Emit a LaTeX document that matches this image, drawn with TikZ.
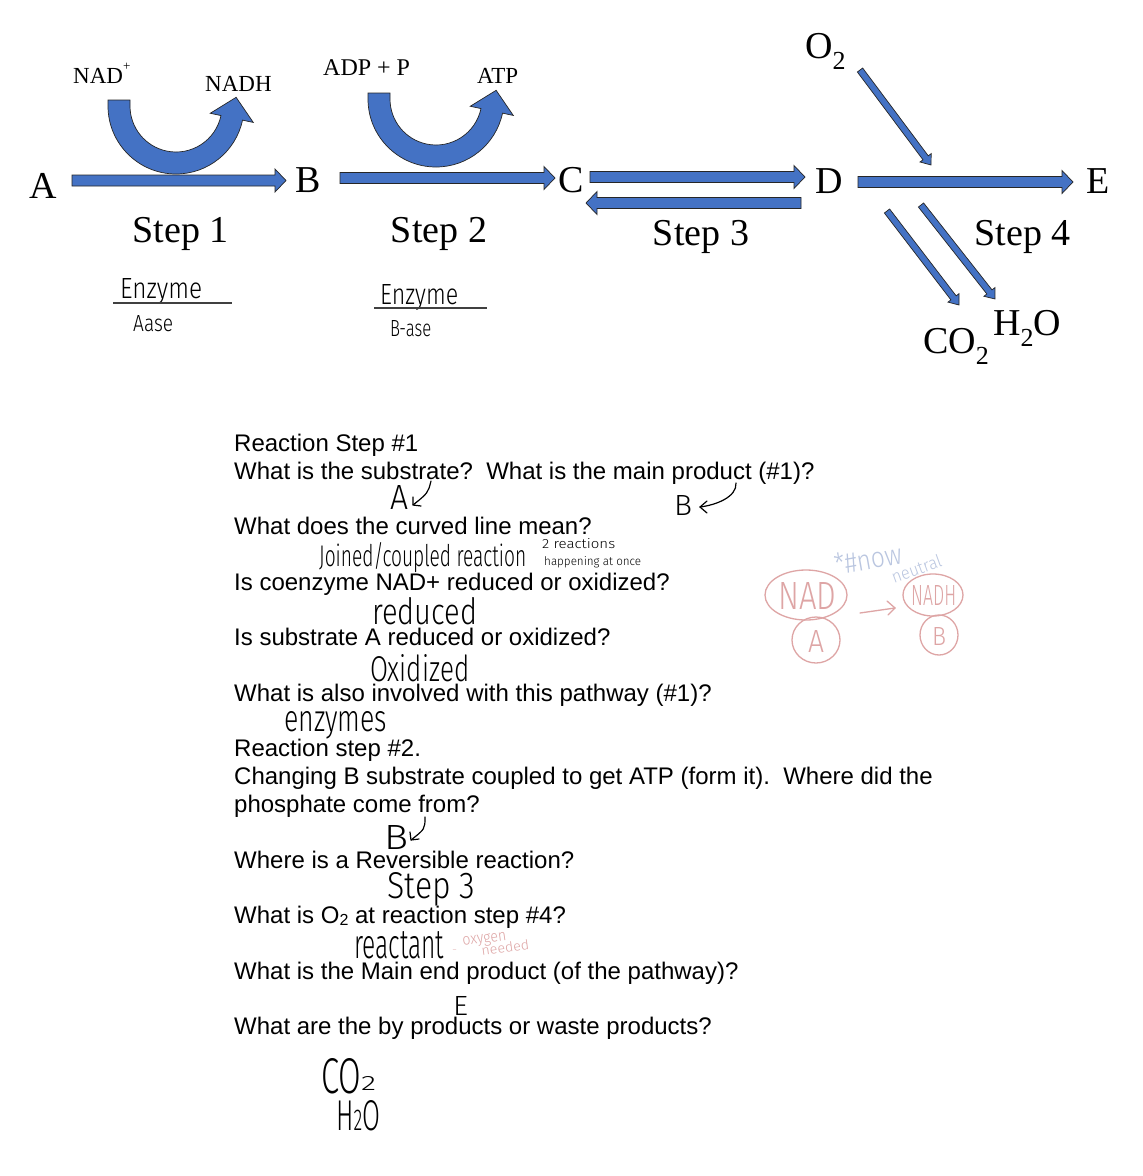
\documentclass[tikz,border=0pt]{standalone}
\usepackage{fontspec}
\setmainfont{Liberation Serif}
\newfontfamily\qfont{Liberation Sans}
\newfontfamily\hand{Fira Sans Light}
\usetikzlibrary{calc}
\definecolor{arrblue}{RGB}{68,114,196}
\definecolor{pinkink}{RGB}{222,165,165}
\definecolor{blueink}{RGB}{186,198,224}
\tikzset{
 blockarrow/.style={fill=arrblue, draw=black!85, line width=0.7pt, line join=miter},
 lbl/.style={inner sep=0pt, anchor=base, font=\fontsize{38}{38}\selectfont},
 smlbl/.style={inner sep=0pt, anchor=base west, font=\fontsize{23}{23}\selectfont},
 qline/.style={inner sep=0pt, anchor=base west, font=\qfont\fontsize{24}{24}\selectfont},
 hw/.style={inner sep=0pt, anchor=base west, font=\hand},
 pinkhw/.style={inner sep=0pt, anchor=base west, font=\hand, text=pinkink},
 bluehw/.style={inner sep=0pt, anchor=base west, font=\hand, text=blueink},
 pinkstroke/.style={draw=pinkink, line width=1.3pt, line cap=round},
 inkstroke/.style={draw=black, line width=1.2pt, line cap=round, line join=round},
}
\newcommand\blockarr[5]{%
 \coordinate (bah) at ($(#2)!#5!(#1)$);
 \path[blockarrow] ($(#1)!#3!90:(#2)$) -- ($(bah)!#3!90:(#2)$) -- ($(bah)!#4!90:(#2)$) -- (#2) -- ($(bah)!#4!-90:(#2)$) -- ($(bah)!#3!-90:(#2)$) -- ($(#1)!#3!-90:(#2)$) -- cycle;}
\newcommand\curvedarr[1]{%
 \path[blockarrow] ($(#1)+(-46,-6)$) -- ($(#1)+(-68,-6)$) -- ($(#1)+(-68,0)$) arc[start angle=180,end angle=12,radius=68] -- ($(#1)+(12:79)$) -- ($(#1)+(12:57)+(-78:21)$) -- ($(#1)+(12:35)$) -- ($(#1)+(12:46)$) arc[start angle=12,end angle=180,radius=46] -- cycle;}
\newcommand\hwbox[3]{\resizebox{#1pt}{#2pt}{#3}}
\begin{document}
\begin{tikzpicture}[x=1pt,y=-1pt]
\useasboundingbox[fill=white] (0,0) rectangle (1143,1176);
% ---------- letters
\node[lbl] (A) at (43,198) {A};
\node[lbl] (B) at (308,192) {B};
\node[lbl] (C) at (571,192) {C};
\node[lbl] (D) at (829,193) {D};
\node[lbl] (E) at (1098,193) {E};
\node[lbl] (s1) at (180.5,242) {Step 1};
\node[lbl] (s2) at (439,242) {Step 2};
\node[lbl] (s3) at (701,245) {Step 3};
\node[lbl] (s4) at (1022.5,245) {Step 4};
\node[smlbl] (nad) at (73,83) {NAD\raisebox{0.55em}{\fontsize{13}{13}\selectfont +}};
\node[smlbl] (nadh) at (205,91) {NADH};
\node[smlbl,font=\fontsize{24}{24}\selectfont] (adp) at (323,75) {ADP + P};
\node[smlbl] (atp) at (477,83) {ATP};
\node[lbl,anchor=base west] (o2) at (805,58) {O\raisebox{-0.3em}{\fontsize{26}{26}\selectfont 2}};
\node[lbl,anchor=base west] (co2) at (923,353) {CO\raisebox{-0.3em}{\fontsize{26}{26}\selectfont 2}};
\node[lbl,anchor=base west] (h2o) at (993,335) {H\raisebox{-0.3em}{\fontsize{26}{26}\selectfont 2}O};
% ---------- block arrows
\coordinate (ab1) at (72,180.5); \coordinate (ab2) at (286,180.5);
\coordinate (bc1) at (340,178); \coordinate (bc2) at (555,178);
\coordinate (cd1) at (590,177); \coordinate (cd2) at (805,177);
\coordinate (dc1) at (801,203); \coordinate (dc2) at (586,203);
\coordinate (de1) at (858,182); \coordinate (de2) at (1073,182);
\coordinate (ox1) at (860,70); \coordinate (ox2) at (931,165);
\coordinate (cw1) at (887,211); \coordinate (cw2) at (959,305);
\coordinate (hw1) at (921,205); \coordinate (hw2) at (995,299);
\blockarr{ab1}{ab2}{5.5pt}{11.5pt}{11pt}
\blockarr{bc1}{bc2}{5.5pt}{11.5pt}{11pt}
\blockarr{cd1}{cd2}{5.5pt}{11.5pt}{11pt}
\blockarr{dc1}{dc2}{5.5pt}{11.5pt}{11pt}
\blockarr{de1}{de2}{5.5pt}{11.5pt}{11pt}
\blockarr{ox1}{ox2}{3.3pt}{7pt}{9pt}
\blockarr{cw1}{cw2}{3.3pt}{7pt}{9pt}
\blockarr{hw1}{hw2}{3.3pt}{7pt}{9pt}
\coordinate (u1) at (176,106);
\coordinate (u2) at (436,99);
\curvedarr{u1}
\curvedarr{u2}
% ---------- enzyme notes
\node[hw] (enz1) at (120,298) {\hwbox{82}{20}{Enzyme}};
\coordinate (ln1a) at (113,303); \coordinate (ln1b) at (232,303);
\draw[line width=1.3pt, black!75] (ln1a) -- (ln1b);
\node[hw] (aase) at (133,331) {\hwbox{40}{16}{Aase}};
\node[hw] (enz2) at (380,304) {\hwbox{78}{20}{Enzyme}};
\coordinate (ln2a) at (374,308); \coordinate (ln2b) at (487,308);
\draw[line width=1.3pt, black!75] (ln2a) -- (ln2b);
\node[hw] (base) at (390,336) {\hwbox{41}{16}{B{\kern-0.05em}-ase}};
% ---------- questions
\node[qline] (q1) at (234,451) {Reaction Step \#1};
\node[qline] (q2) at (234,479) {What is the substrate?\ \ What is the main product (\#1)?};
\node[qline] (q3) at (234,534.4) {What does the curved line mean?};
\node[qline] (q4) at (234,590) {Is coenzyme NAD+ reduced or oxidized?};
\node[qline] (q5) at (234,645.6) {Is substrate A reduced or oxidized?};
\node[qline] (q6) at (234,701.2) {What is also involved with this pathway (\#1)?};
\node[qline] (q7) at (234,756.8) {Reaction step \#2.};
\node[qline] (q8) at (234,784.6) {Changing B substrate coupled to get ATP (form it).\ \ Where did the};
\node[qline] (q9) at (234,812.4) {phosphate come from?};
\node[qline] (q10) at (234,868) {Where is a Reversible reaction?};
\node[qline] (q11) at (234,923.6) {What is O\raisebox{-2pt}{\fontsize{16}{16}\selectfont 2} at reaction step \#4?};
\node[qline] (q12) at (234,979.2) {What is the Main end product (of the pathway)?};
\node[qline] (q13) at (234,1034.8) {What are the by products or waste products?};
% ---------- handwritten answers
\node[hw] (ansA) at (390,509) {\hwbox{18}{24}{A}};
\coordinate (aa1) at (431,481); \coordinate (aa2) at (413,505);
\draw[inkstroke] (aa1) .. controls (428,493) .. (aa2);
\draw[inkstroke] ($(aa2)+(0,-8)$) -- (aa2) -- ($(aa2)+(8,1)$);
\node[hw] (ansB) at (674,515) {\hwbox{18}{20}{B}};
\coordinate (ba1) at (736,483); \coordinate (ba2) at (700,507);
\draw[inkstroke] (ba1) .. controls (737,497) and (716,505) .. (ba2);
\draw[inkstroke] ($(ba2)+(7,-6)$) -- (ba2) -- ($(ba2)+(7,6)$);
\node[hw] (joined) at (319,566) {\hwbox{207}{24}{Joined/coupled reaction}};
\node[hw] (tworx) at (542,548) {\hwbox{73}{10}{2 reactions}};
\node[hw] (happ) at (544,565) {\hwbox{97}{9}{happening at once}};
\node[hw] (reduced) at (372,624) {\hwbox{105}{27}{reduced}};
\node[hw] (oxid) at (370,681) {\hwbox{99}{27}{Oxidized}};
\node[hw] (enzymes) at (284,731) {\hwbox{103}{20}{enzymes}};
\node[hw] (ansB2) at (384,849) {\hwbox{24}{24}{B}};
\coordinate (bb1) at (425,817); \coordinate (bb2) at (411,840);
\draw[inkstroke] (bb1) .. controls (425,829) .. (bb2);
\draw[inkstroke] ($(bb2)+(-1,-8)$) -- (bb2) -- ($(bb2)+(8,-1)$);
\node[hw] (step3) at (387,898) {\hwbox{88}{26}{Step 3}};
\node[hw] (react) at (354,958) {\hwbox{90}{27}{reactant}};
\node[pinkhw] (dash) at (452,952) {\hwbox{5}{3}{-}};
\node[pinkhw,rotate=8] (oxy) at (463,946) {\hwbox{44}{9}{oxygen}};
\node[pinkhw,rotate=8] (need) at (482,956) {\hwbox{48}{10}{needed}};
\node[hw] (ansE) at (453,1015) {\hwbox{15}{19}{E}};
\node[hw] (co2h) at (321,1093) {\hwbox{40}{35}{CO}};
\node[hw] (co2s) at (361,1090) {\hwbox{15}{14}{2}};
\node[hw] (h2oh) at (336,1130) {\hwbox{44}{30}{H{\fontsize{7}{7}\selectfont 2}O}};
% ---------- pink sketch
\coordinate (nadc) at (806,595);
\coordinate (ac) at (816,640);
\coordinate (nadhc) at (933,595);
\coordinate (bc) at (939,635);
\draw[pinkstroke] (nadc) ellipse[x radius=41,y radius=25];
\draw[pinkstroke] (ac) ellipse[x radius=24,y radius=23];
\draw[pinkstroke] (nadhc) ellipse[x radius=30,y radius=21];
\draw[pinkstroke] (bc) ellipse[x radius=19,y radius=20];
\node[pinkhw] (pnad) at (778,609) {\hwbox{58}{27}{NAD}};
\node[pinkhw] (pa) at (808,652) {\hwbox{16}{22}{A}};
\node[pinkhw] (pnadh) at (911,605) {\hwbox{45}{20}{NADH}};
\node[pinkhw] (pb) at (932,645) {\hwbox{14}{18}{B}};
\coordinate (pa1) at (860,613); \coordinate (pa2) at (895,608);
\draw[pinkstroke] (pa1) -- (pa2);
\draw[pinkstroke] ($(pa2)+(-8,-7)$) -- (pa2) -- ($(pa2)+(-7,7)$);
\node[bluehw,rotate=10] (now) at (836,575) {\hwbox{68}{21}{*\#now}};
\node[bluehw,rotate=20] (neut) at (894,584) {\hwbox{52}{13}{neutral}};
\end{tikzpicture}
\end{document}
